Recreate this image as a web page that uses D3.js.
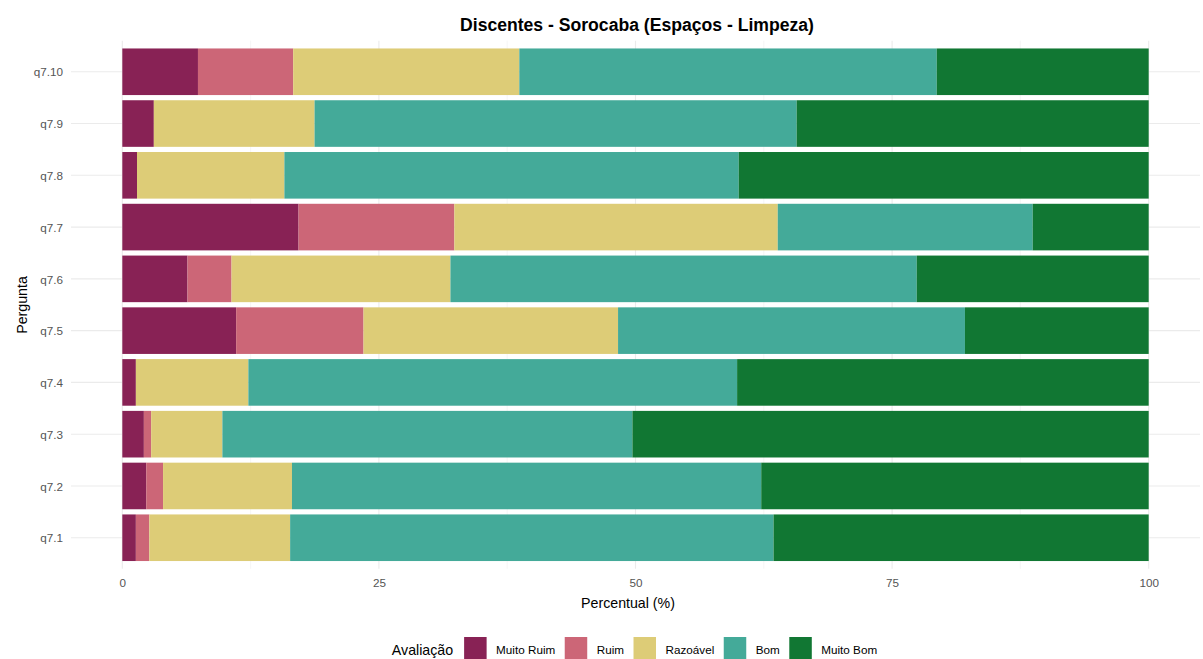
<!DOCTYPE html>
<html>
<head>
<meta charset="utf-8">
<script src="https://cdn.jsdelivr.net/npm/d3@7"></script>
<style>
  html, body { margin: 0; padding: 0; background: #fff; }
  svg { display: block; font-family: "Liberation Sans", Arial, sans-serif; }
</style>
</head>
<body>
<svg id="chart" width="1203" height="659"></svg>
<script>
// ---- data ----
const categories = ["q7.1", "q7.2", "q7.3", "q7.4", "q7.5", "q7.6", "q7.7", "q7.8", "q7.9", "q7.10"];
const levels = ["Muito Ruim", "Ruim", "Razoável", "Bom", "Muito Bom"];
const muitoRuim = [1.32, 2.33, 2.10, 1.32, 11.09, 6.35, 17.17, 1.43, 3.07, 7.37];
const ruim      = [1.31, 1.64, 0.71, 0.00, 12.41, 4.29, 15.18, 0.00, 0.00, 9.28];
const razoavel  = [13.72, 12.56, 6.94, 10.96, 24.80, 21.33, 31.51, 14.36, 15.66, 22.03];
const bom       = [47.10, 45.72, 39.95, 47.62, 33.80, 45.43, 24.84, 44.27, 46.97, 40.67];
const muitoBom  = [36.55, 37.75, 50.30, 40.10, 17.90, 22.60, 11.30, 39.94, 34.30, 20.65];
const xTicks = [0, 25, 50, 75, 100];
const xMinor = [12.5, 37.5, 62.5, 87.5];
const colors = ["#882255", "#CC6677", "#DDCC77", "#44AA99", "#117733"];
const title = "Discentes - Sorocaba (Espaços - Limpeza)";

// ---- build table ----
const seriesVals = [muitoRuim, ruim, razoavel, bom, muitoBom];
const table = categories.map((c, i) => {
  const row = { cat: c };
  levels.forEach((l, j) => row[l] = seriesVals[j][i]);
  return row;
});
const stacked = d3.stack().keys(levels)(table);

const svg = d3.select("#chart");
const panel = { left: 71, right: 1200, top: 40.7, bottom: 568.8 };

const x = d3.scaleLinear().domain([-5, 105]).range([panel.left, panel.right]);
const y = d3.scalePoint().domain(categories.slice().reverse())
  .range([panel.top, panel.bottom]).padding(0.6);
const barH = y.step() * 0.9;
const color = d3.scaleOrdinal().domain(levels).range(colors);

// grid
const grid = svg.append("g");
grid.selectAll("line.minor").data(xMinor).join("line")
  .attr("x1", d => x(d)).attr("x2", d => x(d))
  .attr("y1", panel.top).attr("y2", panel.bottom)
  .attr("stroke", "#F0F0F0").attr("stroke-width", 0.6);
grid.selectAll("line.majx").data(xTicks).join("line")
  .attr("x1", d => x(d)).attr("x2", d => x(d))
  .attr("y1", panel.top).attr("y2", panel.bottom)
  .attr("stroke", "#EBEBEB").attr("stroke-width", 1.1);
grid.selectAll("line.majy").data(categories).join("line")
  .attr("x1", panel.left).attr("x2", panel.right)
  .attr("y1", d => y(d)).attr("y2", d => y(d))
  .attr("stroke", "#EBEBEB").attr("stroke-width", 1.1);

// bars
svg.append("g").selectAll("g").data(stacked).join("g")
  .attr("fill", d => color(d.key))
  .selectAll("rect").data(d => d).join("rect")
  .attr("x", d => x(d[0]))
  .attr("width", d => Math.max(0, x(d[1]) - x(d[0])))
  .attr("y", d => y(d.data.cat) - barH / 2)
  .attr("height", barH);

// axes labels
const xAxis = d3.axisBottom(x).tickValues(xTicks).tickSize(0).tickPadding(0).tickFormat(d3.format("d"));
const gx = svg.append("g").attr("transform", `translate(0,${panel.bottom})`).call(xAxis)
  .attr("font-family", null).attr("font-size", null);
gx.select(".domain").remove();
gx.selectAll("text").attr("font-size", 11.7).attr("fill", "#555")
  .attr("dy", "0").attr("y", 18.5);

const yAxis = d3.axisLeft(y).tickSize(0).tickPadding(0);
const gy = svg.append("g").attr("transform", `translate(63,0)`).call(yAxis)
  .attr("font-family", null).attr("font-size", null);
gy.select(".domain").remove();
gy.selectAll("text").attr("font-size", 11.7).attr("fill", "#555")
  .attr("dy", "0.36em");

// titles
svg.append("text").attr("x", 637).attr("y", 30.5).attr("text-anchor", "middle")
  .attr("font-size", 17.6).attr("font-weight", "bold").attr("fill", "#000").text(title);
svg.append("text").attr("x", 628).attr("y", 607.5).attr("text-anchor", "middle")
  .attr("font-size", 14.2).attr("fill", "#000").text("Percentual (%)");
svg.append("text").attr("transform", "translate(27,305) rotate(-90)").attr("text-anchor", "middle")
  .attr("font-size", 14.2).attr("fill", "#000").text("Pergunta");

// legend
const leg = svg.append("g");
const legTitle = leg.append("text").attr("x", 0).attr("y", 655).attr("font-size", 14.2)
  .attr("fill", "#000").text("Avaliação");
let cx = legTitle.node().getComputedTextLength() + 11;
levels.forEach((l, i) => {
  leg.append("rect").attr("x", cx).attr("y", 637).attr("width", 22.5).attr("height", 22.5)
    .attr("fill", color(l));
  cx += 22.5 + 9.5;
  const t = leg.append("text").attr("x", cx).attr("y", 654).attr("font-size", 11.7)
    .attr("fill", "#000").text(l);
  cx += t.node().getComputedTextLength() + (i < levels.length - 1 ? 9.5 : 0);
});
leg.attr("transform", `translate(${634.5 - cx / 2},0)`);
</script>
</body>
</html>
